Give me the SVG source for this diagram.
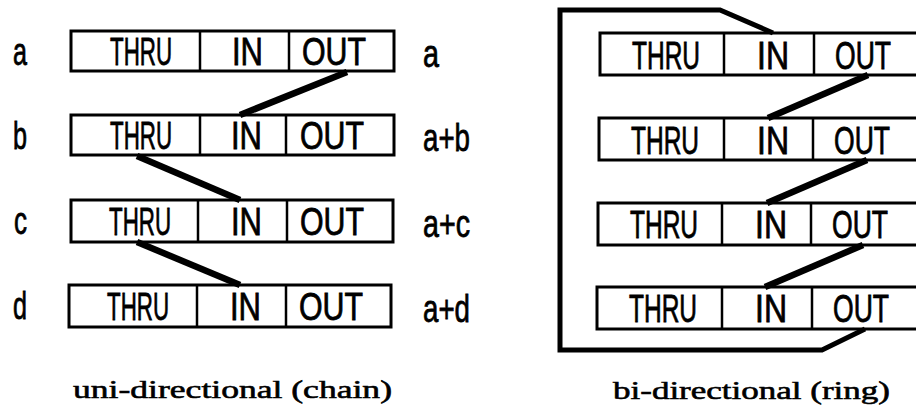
<svg xmlns="http://www.w3.org/2000/svg" width="916" height="415" viewBox="0 0 916 415">
  <style>
    .box { fill: #fff; stroke: #000; stroke-width: 3; }
    .div { stroke: #000; stroke-width: 2.5; }
    .wire { fill: none; stroke: #000; stroke-width: 6.5; stroke-linejoin: miter; }
    .ring { fill: none; stroke: #000; stroke-width: 5; stroke-linejoin: miter; }
    .cell { font-family: "Liberation Sans", Arial, sans-serif; font-size: 38px; fill: #000; stroke: #000; stroke-width: 0.8; }
    .lbl { font-family: "Liberation Sans", Arial, sans-serif; font-size: 39px; fill: #000; stroke: #000; stroke-width: 0.8; }
    .cap { font-family: "Liberation Serif", "Times New Roman", serif; font-size: 26px; fill: #000; stroke: #000; stroke-width: 0.6; }
  </style>

  <!-- uni-directional chain -->
  <g id="chain-a">
    <text class="lbl" x="13" y="65" textLength="14" lengthAdjust="spacingAndGlyphs">a</text>
    <rect class="box" x="71" y="31" width="323" height="40"/>
    <line class="div" x1="200" y1="31" x2="200" y2="71"/>
    <line class="div" x1="289" y1="31" x2="289" y2="71"/>
    <text class="cell" x="110" y="65" textLength="62" lengthAdjust="spacingAndGlyphs">THRU</text>
    <text class="cell" x="232" y="65" textLength="31" lengthAdjust="spacingAndGlyphs">IN</text>
    <text class="cell" x="302" y="65" textLength="64" lengthAdjust="spacingAndGlyphs">OUT</text>
    <text class="lbl" x="423" y="67" textLength="16" lengthAdjust="spacingAndGlyphs">a</text>
  </g>
  <g id="chain-b">
    <text class="lbl" x="13" y="149" textLength="14" lengthAdjust="spacingAndGlyphs">b</text>
    <rect class="box" x="71" y="115" width="323" height="40"/>
    <line class="div" x1="200" y1="115" x2="200" y2="155"/>
    <line class="div" x1="286" y1="115" x2="286" y2="155"/>
    <text class="cell" x="110" y="149" textLength="62" lengthAdjust="spacingAndGlyphs">THRU</text>
    <text class="cell" x="231" y="149" textLength="31" lengthAdjust="spacingAndGlyphs">IN</text>
    <text class="cell" x="300" y="149" textLength="64" lengthAdjust="spacingAndGlyphs">OUT</text>
    <text class="lbl" x="423" y="151" textLength="47" lengthAdjust="spacingAndGlyphs">a+b</text>
  </g>
  <g id="chain-c">
    <text class="lbl" x="14" y="234" textLength="13" lengthAdjust="spacingAndGlyphs">c</text>
    <rect class="box" x="71" y="200" width="322" height="42"/>
    <line class="div" x1="198" y1="200" x2="198" y2="242"/>
    <line class="div" x1="287" y1="200" x2="287" y2="242"/>
    <text class="cell" x="109" y="235" textLength="62" lengthAdjust="spacingAndGlyphs">THRU</text>
    <text class="cell" x="231" y="235" textLength="31" lengthAdjust="spacingAndGlyphs">IN</text>
    <text class="cell" x="300" y="235" textLength="64" lengthAdjust="spacingAndGlyphs">OUT</text>
    <text class="lbl" x="423" y="237" textLength="47" lengthAdjust="spacingAndGlyphs">a+c</text>
  </g>
  <g id="chain-d">
    <text class="lbl" x="13" y="319" textLength="14" lengthAdjust="spacingAndGlyphs">d</text>
    <rect class="box" x="69" y="285" width="322" height="42"/>
    <line class="div" x1="197" y1="285" x2="197" y2="327"/>
    <line class="div" x1="286" y1="285" x2="286" y2="327"/>
    <text class="cell" x="107" y="320" textLength="62" lengthAdjust="spacingAndGlyphs">THRU</text>
    <text class="cell" x="230" y="320" textLength="31" lengthAdjust="spacingAndGlyphs">IN</text>
    <text class="cell" x="299" y="320" textLength="64" lengthAdjust="spacingAndGlyphs">OUT</text>
    <text class="lbl" x="423" y="322" textLength="47" lengthAdjust="spacingAndGlyphs">a+d</text>
  </g>

  <!-- bi-directional ring -->
  <g id="ring-1">
    <rect class="box" x="600" y="33" width="330" height="42"/>
    <line class="div" x1="724" y1="33" x2="724" y2="75"/>
    <line class="div" x1="814" y1="33" x2="814" y2="75"/>
    <text class="cell" x="632" y="69" textLength="68" lengthAdjust="spacingAndGlyphs">THRU</text>
    <text class="cell" x="757" y="69" textLength="32" lengthAdjust="spacingAndGlyphs">IN</text>
    <text class="cell" x="835" y="69" textLength="56" lengthAdjust="spacingAndGlyphs">OUT</text>
  </g>
  <g id="ring-2">
    <rect class="box" x="599" y="118" width="330" height="42"/>
    <line class="div" x1="724" y1="118" x2="724" y2="160"/>
    <line class="div" x1="813" y1="118" x2="813" y2="160"/>
    <text class="cell" x="631" y="154" textLength="68" lengthAdjust="spacingAndGlyphs">THRU</text>
    <text class="cell" x="757" y="154" textLength="32" lengthAdjust="spacingAndGlyphs">IN</text>
    <text class="cell" x="834" y="154" textLength="56" lengthAdjust="spacingAndGlyphs">OUT</text>
  </g>
  <g id="ring-3">
    <rect class="box" x="598" y="203" width="330" height="42"/>
    <line class="div" x1="722" y1="203" x2="722" y2="245"/>
    <line class="div" x1="811" y1="203" x2="811" y2="245"/>
    <text class="cell" x="630" y="238" textLength="68" lengthAdjust="spacingAndGlyphs">THRU</text>
    <text class="cell" x="755" y="238" textLength="32" lengthAdjust="spacingAndGlyphs">IN</text>
    <text class="cell" x="832" y="238" textLength="56" lengthAdjust="spacingAndGlyphs">OUT</text>
  </g>
  <g id="ring-4">
    <rect class="box" x="597" y="287" width="330" height="42"/>
    <line class="div" x1="722" y1="287" x2="722" y2="329"/>
    <line class="div" x1="812" y1="287" x2="812" y2="329"/>
    <text class="cell" x="629" y="322" textLength="68" lengthAdjust="spacingAndGlyphs">THRU</text>
    <text class="cell" x="755" y="322" textLength="32" lengthAdjust="spacingAndGlyphs">IN</text>
    <text class="cell" x="833" y="322" textLength="56" lengthAdjust="spacingAndGlyphs">OUT</text>
  </g>

  <!-- connecting wires -->
  <g id="connectors">
    <line class="wire" x1="347" y1="72" x2="240" y2="115"/>
    <line class="wire" x1="137" y1="156" x2="240" y2="200"/>
    <line class="wire" x1="137" y1="242" x2="240" y2="285"/>
    <polyline class="ring" points="773,33 720,10 560,10 560,350 822,350 865,329"/>
    <line class="wire" x1="868" y1="75" x2="768" y2="118"/>
    <line class="wire" x1="867" y1="160" x2="767" y2="203"/>
    <line class="wire" x1="863" y1="245" x2="765" y2="287"/>
  </g>

  <!-- captions -->
  <text class="cap" x="73" y="398" textLength="319" lengthAdjust="spacingAndGlyphs">uni-directional (chain)</text>
  <text class="cap" x="613" y="399" textLength="277" lengthAdjust="spacingAndGlyphs">bi-directional (ring)</text>
</svg>
